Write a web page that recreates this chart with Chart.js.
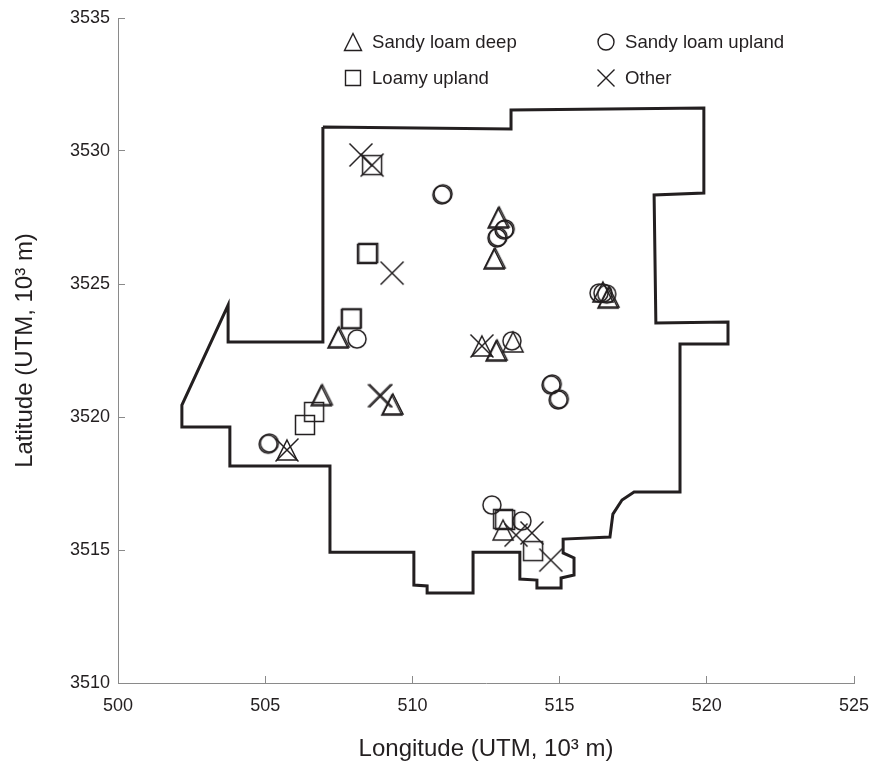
<!DOCTYPE html>
<html><head><meta charset="utf-8">
<style>html,body{margin:0;padding:0;background:#fff}canvas{display:block}</style>
<script src="https://cdn.jsdelivr.net/npm/chart.js@4"></script></head>
<body><canvas id="c" width="871" height="764"></canvas>
<script>
const xTicks=[500,505,510,515,520,525];
const yTicks=[3510,3515,3520,3525,3530,3535];
const seriesNames=["Sandy loam deep","Sandy loam upland","Loamy upland","Other"];
const boundaryX=[506.96,513.35,513.35,519.90,519.90,518.21,518.27,520.72,520.72,519.09,519.09,517.53,517.12,516.81,516.71,515.12,515.12,515.49,515.49,515.05,515.05,514.23,514.23,513.65,513.65,512.06,512.06,510.50,510.50,510.05,510.05,507.20,507.20,503.80,503.80,502.17,502.17,503.74,503.74,506.96,506.96];
const boundaryY=[3530.90,3530.83,3531.54,3531.62,3528.42,3528.35,3523.53,3523.57,3522.74,3522.74,3517.18,3517.18,3516.88,3516.35,3515.49,3515.41,3514.89,3514.70,3514.06,3513.95,3513.57,3513.57,3513.87,3513.91,3514.92,3514.92,3513.38,3513.38,3513.65,3513.68,3514.92,3514.92,3518.16,3518.16,3519.62,3519.62,3520.45,3524.21,3522.82,3522.82,3530.90];
const triX=[507.47,507.51,506.90,506.94,509.30,509.34,505.74,512.91,512.95,512.77,512.81,512.36,512.84,512.88,513.42,516.47,516.64,516.68,513.08];
const triY=[3522.97,3523.01,3520.80,3520.84,3520.45,3520.49,3518.76,3527.48,3527.52,3525.94,3525.98,3522.67,3522.48,3522.52,3522.82,3524.70,3524.47,3524.51,3515.75];
const cirX=[508.12,505.10,505.14,511.00,511.04,513.11,513.15,512.91,512.87,516.34,516.47,516.60,513.38,514.71,514.75,514.95,514.99,512.70,513.72];
const cirY=[3522.93,3518.98,3519.02,3528.35,3528.39,3527.03,3527.07,3526.77,3526.73,3524.66,3524.66,3524.62,3522.86,3521.20,3521.24,3520.64,3520.68,3516.69,3516.09];
const squX=[508.63,508.46,508.50,507.91,507.94,506.66,506.35,513.08,513.15,514.10];
const squY=[3529.47,3526.13,3526.17,3523.68,3523.71,3520.19,3519.70,3516.17,3516.13,3514.96];
const othX=[508.25,508.63,509.31,508.88,508.93,505.74,512.36,513.52,514.06,514.70];
const othY=[3529.85,3529.47,3525.41,3520.80,3520.80,3518.76,3522.67,3515.56,3515.64,3514.62];

const INK='#231f20', FONT='"Liberation Sans", Arial, sans-serif';
function pts(a,b){return a.map((v,i)=>({x:v,y:b[i]}));}
function shape(ctx,kind,s){
  const h=s/2;
  ctx.beginPath();
  if(kind==='tri'){ctx.moveTo(0,-h);ctx.lineTo(h,h);ctx.lineTo(-h,h);ctx.closePath();}
  else if(kind==='cir'){ctx.arc(0,0,h,0,Math.PI*2);}
  else if(kind==='squ'){ctx.rect(-h,-h,s,s);}
  else{ctx.moveTo(-h,-h);ctx.lineTo(h,h);ctx.moveTo(h,-h);ctx.lineTo(-h,h);}
  ctx.stroke();
}
function sprite(kind,s){
  const c=document.createElement('canvas');c.width=c.height=40;
  const g=c.getContext('2d');g.translate(20,20);g.strokeStyle=INK;g.lineWidth=1.5;shape(g,kind,s);
  return c;
}
const legendRows=[[353,42,'tri',17,0],[606,42,'cir',16,1],[353,78,'squ',15,2],[606,78,'x',17,3]];
const legendPlugin={id:'cornerKey',afterDraw(ch){
  const g=ch.ctx;g.save();g.strokeStyle=INK;g.fillStyle=INK;g.lineWidth=1.4;
  g.font='18.6px '+FONT;g.textBaseline='middle';g.textAlign='left';
  legendRows.forEach(r=>{g.save();g.translate(r[0],r[1]);shape(g,r[2],r[3]);g.restore();
    g.fillText(seriesNames[r[4]],r[0]+19,r[1]+1);});
  g.restore();
}};
function marks(label,a,b,kind,s){return{label,data:pts(a,b),showLine:false,pointStyle:sprite(kind,s),pointRadius:20,pointHoverRadius:20,clip:false};}
new Chart(document.getElementById('c'),{
  type:'scatter',
  data:{datasets:[
    {label:'Boundary',data:pts(boundaryX,boundaryY),showLine:true,borderColor:INK,borderWidth:3,pointRadius:0,borderJoinStyle:'miter',tension:0,fill:false},
    marks(seriesNames[0],triX,triY,'tri',20),
    marks(seriesNames[1],cirX,cirY,'cir',18),
    marks(seriesNames[2],squX,squY,'squ',19),
    marks(seriesNames[3],othX,othY,'x',23)
  ]},
  options:{
    responsive:false,animation:false,
    layout:{autoPadding:false,padding:{left:0,top:18,right:17,bottom:0}},
    plugins:{legend:{display:false},tooltip:{enabled:false}},
    scales:{
      x:{type:'linear',min:500,max:525,
        afterFit(s){s.height=81;s.paddingLeft=0;s.paddingRight=0;},
        afterBuildTicks(s){s.ticks=xTicks.map(v=>({value:v}));},
        border:{color:'#8a8a8a',width:1},
        grid:{drawOnChartArea:false,drawTicks:true,tickLength:-7,tickColor:'#8a8a8a',tickWidth:1},
        ticks:{color:INK,font:{family:FONT,size:18},padding:19,maxRotation:0,autoSkip:false,callback:v=>String(v)},
        title:{display:true,text:'Longitude (UTM, 10³ m)',color:INK,font:{family:FONT,size:24},padding:{top:0,bottom:0}}
      },
      y:{type:'linear',min:3510,max:3535,
        afterFit(s){s.width=118;s.paddingTop=0;s.paddingBottom=0;},
        afterBuildTicks(s){s.ticks=yTicks.map(v=>({value:v}));},
        border:{color:'#8a8a8a',width:1},
        grid:{drawOnChartArea:false,drawTicks:true,tickLength:-7,tickColor:'#8a8a8a',tickWidth:1},
        ticks:{color:INK,font:{family:FONT,size:18},padding:15,autoSkip:false,callback:v=>String(v)},
        title:{display:true,text:'Latitude (UTM, 10³ m)',color:INK,font:{family:FONT,size:24},padding:{top:11,bottom:0}}
      }
    }
  },
  plugins:[legendPlugin]
});
</script>
</body></html>
